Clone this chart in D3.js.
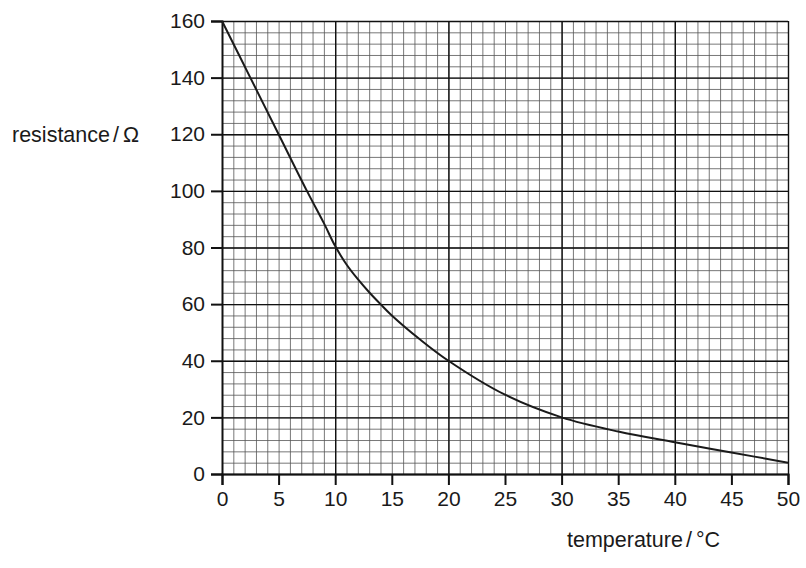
<!DOCTYPE html>
<html>
<head>
<meta charset="utf-8">
<script src="https://cdn.jsdelivr.net/npm/d3@7"></script>
<style>
  body { margin: 0; background: #fff; }
  svg { display: block; font-family: "Liberation Sans", Arial, sans-serif; }
</style>
</head>
<body>
<svg width="806" height="568"></svg>
<script>
// curve
const temperature = [0, 2.5, 5, 7.5, 9, 10, 11, 12, 13, 14, 15, 17.5, 20, 25, 30, 35, 40, 45, 50];
const resistance = [160, 140, 120, 100, 88.6, 80.5, 74, 68.8, 64.2, 60, 56, 47.5, 40, 28, 20, 15, 11.2, 7.6, 4];

const xTicks = [0, 5, 10, 15, 20, 25, 30, 35, 40, 45, 50];
const yTicks = [0, 20, 40, 60, 80, 100, 120, 140, 160];

const xLabel = ["temperature", "/", "°C"];
const yLabel = ["resistance", "/", "Ω"];

function addTitle(svg, parts, x, y) {
    let t = svg.append("text")
        .attr("x", x)
        .attr("y", y)
        .attr("fill", "#1a1a1a")
        .style("font-size", "21.5px");
    t.append("tspan").text(parts[0]);
    t.append("tspan").attr("dx", 3).text(parts[1]);
    t.append("tspan").attr("dx", 4).text(parts[2]);
}

function draw() {
    let svg = d3.select("svg");
    let margin = {top: 21, left: 222};
    let width = 566;
    let height = 453;
    let g = svg.append("g").attr("transform", `translate(${margin.left},${margin.top})`);

    let x = d3.scaleLinear().domain([0, 50]).range([0, width]);
    let y = d3.scaleLinear().domain([0, 160]).range([height, 0]);

    // minor grid: every 1 °C and every 4 Ω
    g.append("g")
        .attr("transform", `translate(0,${height})`)
        .call(d3.axisBottom(x).ticks(50).tickSize(-height).tickFormat(""))
        .call(s => s.select(".domain").remove())
        .selectAll("line").attr("stroke", "#555").attr("stroke-width", 0.8);

    g.append("g")
        .call(d3.axisLeft(y).tickValues(d3.range(0, 161, 4)).tickSize(-width).tickFormat(""))
        .call(s => s.select(".domain").remove())
        .selectAll("line").attr("stroke", "#555").attr("stroke-width", 0.8);

    // major grid
    g.append("g")
        .attr("transform", `translate(0,${height})`)
        .call(d3.axisBottom(x).tickValues([10, 20, 30, 40, 50]).tickSize(-height).tickFormat(""))
        .call(s => s.select(".domain").remove())
        .selectAll("line").attr("stroke", "#111").attr("stroke-width", 1.4);

    g.append("g")
        .call(d3.axisLeft(y).tickValues(yTicks).tickSize(-width).tickFormat(""))
        .call(s => s.select(".domain").remove())
        .selectAll("line").attr("stroke", "#111").attr("stroke-width", 1.4);

    // axes
    let xAxis = g.append("g")
        .attr("transform", `translate(0,${height})`)
        .call(d3.axisBottom(x).tickValues(xTicks).tickSize(11).tickPadding(6.5));
    let yAxis = g.append("g")
        .call(d3.axisLeft(y).tickValues(yTicks).tickSize(11).tickPadding(6));

    for (let ax of [xAxis, yAxis]) {
        ax.select(".domain").attr("stroke", "#111").attr("stroke-width", 2);
        ax.selectAll(".tick line").attr("stroke", "#111").attr("stroke-width", 2);
        ax.selectAll(".tick text")
            .attr("fill", "#1a1a1a")
            .style("font-size", "21px")
            .style("font-family", "'Liberation Sans', Arial, sans-serif");
    }

    let line = d3.line()
        .x((d, i) => x(temperature[i]))
        .y(d => y(d))
        .curve(d3.curveCatmullRom.alpha(0.5));

    g.append("path")
        .datum(resistance)
        .attr("fill", "none")
        .attr("stroke", "#1a1a1a")
        .attr("stroke-width", 2)
        .attr("stroke-linejoin", "round")
        .attr("d", line);

    addTitle(svg, yLabel, 12, 142);
    addTitle(svg, xLabel, 567, 547);
}

draw();
</script>
</body>
</html>
